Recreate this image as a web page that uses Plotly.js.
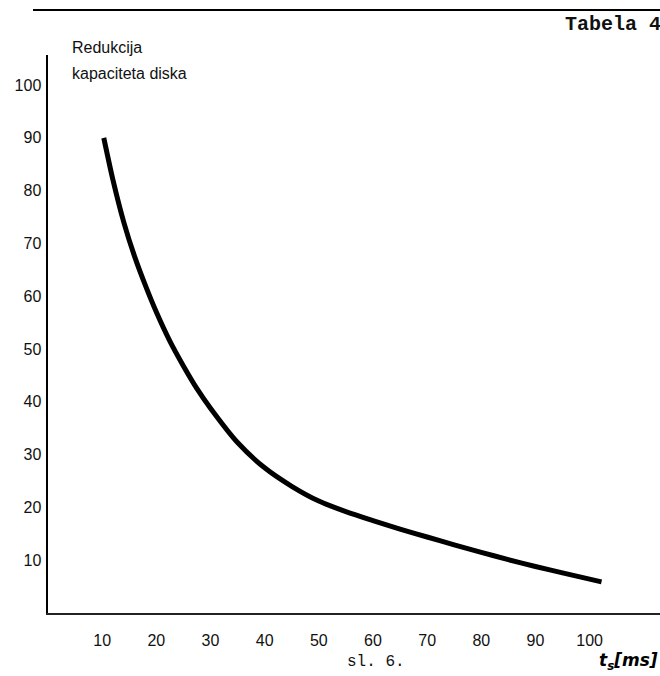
<!DOCTYPE html>
<html>
<head>
<meta charset="utf-8">
<script src="https://cdn.plot.ly/plotly-3.0.1.min.js"></script>
<style>html,body{margin:0;padding:0;background:#fff;}#chart{width:660px;height:676px;}</style>
</head>
<body>
<div id="chart"></div>
<script>
// Data
const accessTimeMs = [10.3, 12, 14, 16, 18, 20, 22.5, 25, 27.5, 30, 35, 40, 45, 50, 55, 60, 65, 70, 75, 80, 85, 90, 95, 102.2];
const capacityReduction = [90, 82, 74, 67.5, 62, 57, 51.5, 46.8, 42.5, 38.8, 32.3, 27.5, 24, 21.2, 19.2, 17.5, 15.9, 14.4, 12.9, 11.5, 10.1, 8.8, 7.6, 5.9];
const xTickValues = [10, 20, 30, 40, 50, 60, 70, 80, 90, 100];
const yTickValues = [10, 20, 30, 40, 50, 60, 70, 80, 90, 100];
const yTitleLines = ["Redukcija", "kapaciteta diska"];
const xTitleText = "<b><i>t<sub>s</sub>[ms]</i></b>";
const captionText = "sl. 6.";
const headerText = "Tabela 4";

const trace = {
  x: accessTimeMs,
  y: capacityReduction,
  type: 'scatter',
  mode: 'lines',
  line: {color: '#000', width: 5, shape: 'spline', smoothing: 0.8},
  hoverinfo: 'skip'
};

const tickFont = {family: 'Liberation Sans, Arial, sans-serif', size: 16, color: '#111'};

const layout = {
  width: 660, height: 676,
  margin: {l: 48, r: 0, t: 55, b: 63, pad: 0},
  paper_bgcolor: '#fff', plot_bgcolor: '#fff',
  showlegend: false,
  xaxis: {
    range: [0, 113], showgrid: false, zeroline: false,
    showline: true, linecolor: '#222', linewidth: 1.5,
    tickmode: 'array', tickvals: xTickValues, ticktext: xTickValues.map(String),
    ticks: '', tickfont: tickFont, ticklabelstandoff: 12, fixedrange: true
  },
  yaxis: {
    range: [0, 105.7], showgrid: false, zeroline: false,
    showline: true, linecolor: '#000', linewidth: 2.5,
    tickmode: 'array', tickvals: yTickValues, ticktext: yTickValues.map(String),
    ticks: '', tickfont: tickFont, ticklabelstandoff: 1, fixedrange: true
  },
  shapes: [
    {type: 'line', xref: 'paper', yref: 'paper', x0: -0.0245, x1: 1.0, y0: 1.0806, y1: 1.0806,
     line: {color: '#000', width: 2}}
  ],
  annotations: [
    {xref: 'paper', yref: 'paper', x: 0.036, y: 1.0143, xanchor: 'left', yanchor: 'middle',
     text: yTitleLines[0], showarrow: false,
     font: {family: 'Liberation Sans, Arial, sans-serif', size: 16, color: '#111'}},
    {xref: 'paper', yref: 'paper', x: 0.036, y: 0.966, xanchor: 'left', yanchor: 'middle',
     text: yTitleLines[1], showarrow: false,
     font: {family: 'Liberation Sans, Arial, sans-serif', size: 16, color: '#111'}},
    {xref: 'paper', yref: 'paper', x: 0.8415, y: 1.0538, xanchor: 'left', yanchor: 'middle',
     text: '<b>' + headerText + '</b>', showarrow: false,
     font: {family: 'Liberation Mono, Courier New, monospace', size: 20, color: '#111'}},
    {xref: 'paper', yref: 'paper', x: 0.485, y: -0.0878, xanchor: 'left', yanchor: 'middle',
     text: captionText, showarrow: false,
     font: {family: 'Liberation Mono, Courier New, monospace', size: 16, color: '#111'}},
    {xref: 'paper', yref: 'paper', x: 1.0, y: -0.0878, xanchor: 'right', yanchor: 'middle',
     text: xTitleText, showarrow: false,
     font: {family: 'DejaVu Sans, sans-serif', size: 17, color: '#000'}}
  ]
};

Plotly.newPlot('chart', [trace], layout, {staticPlot: true, displayModeBar: false});
</script>
</body>
</html>
